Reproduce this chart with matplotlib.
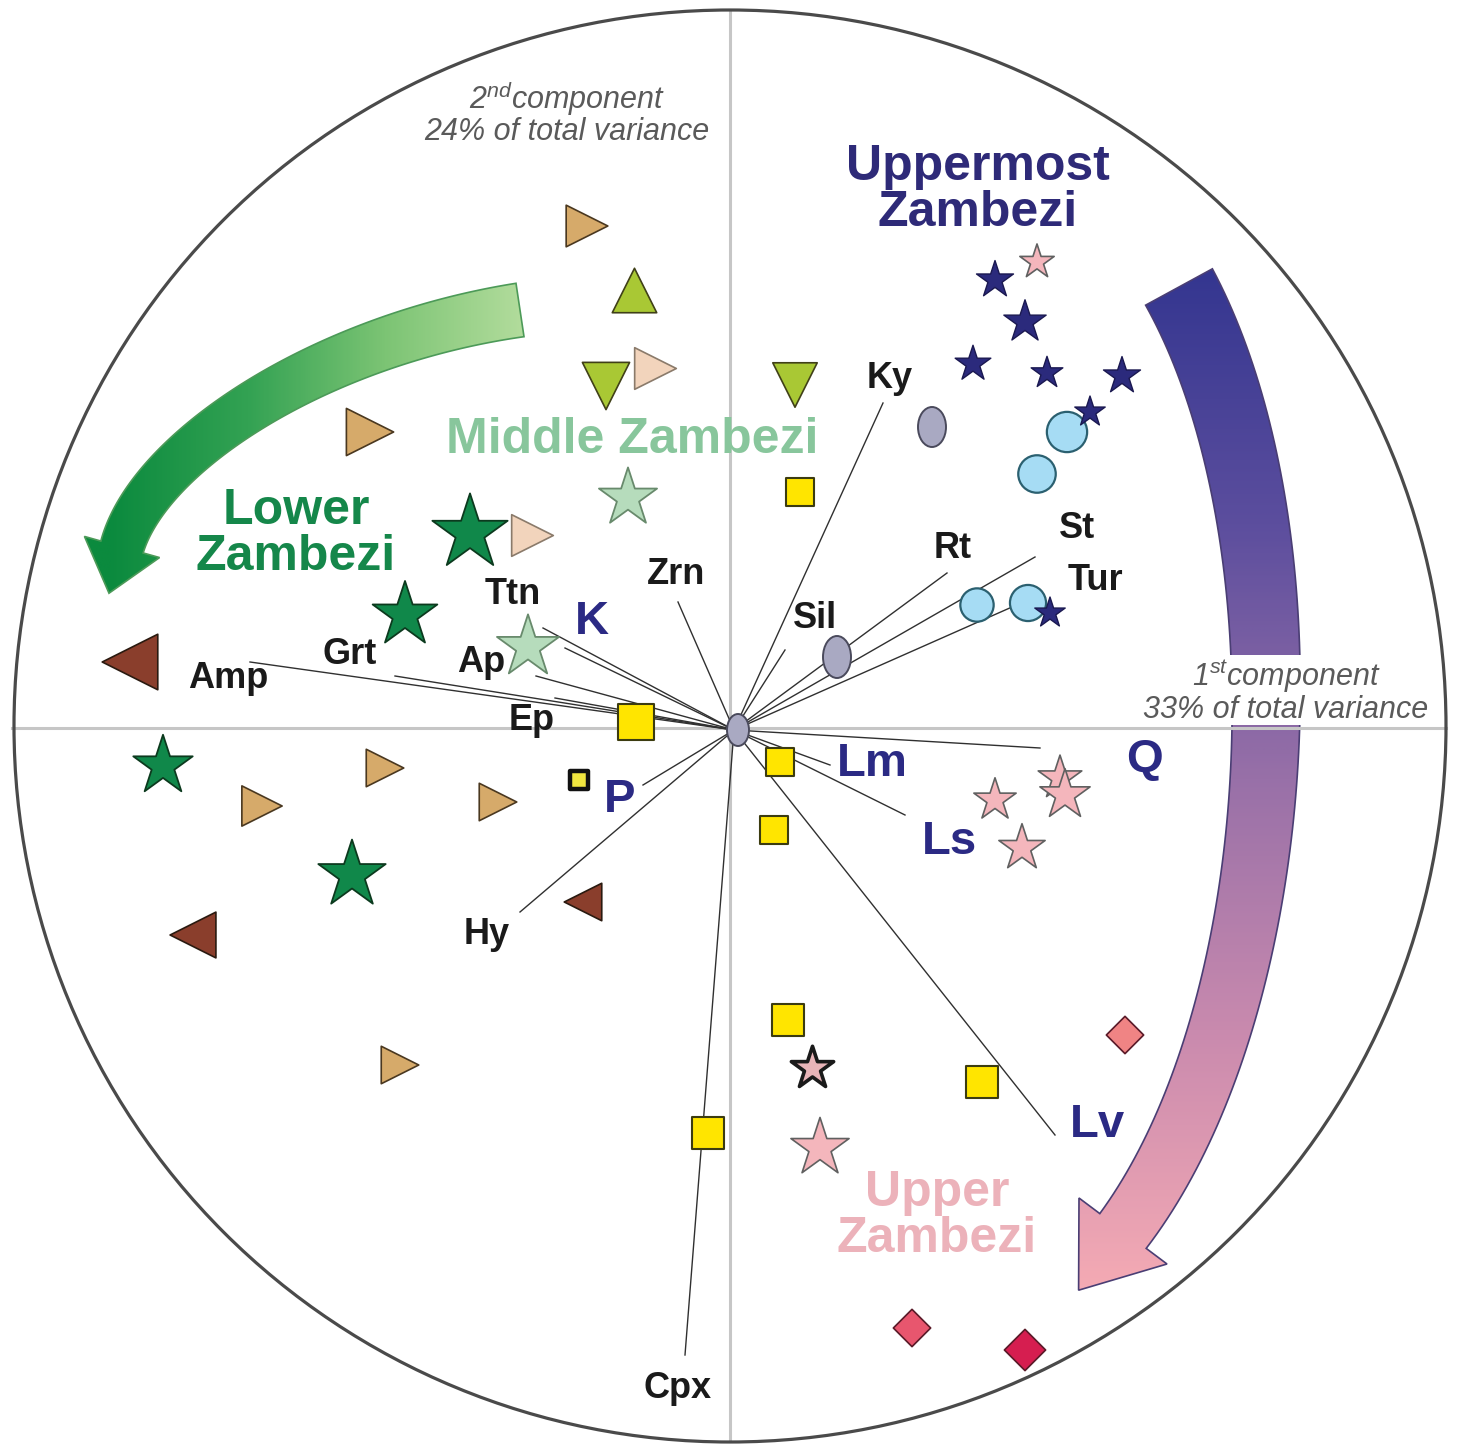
import numpy as np
import matplotlib
matplotlib.use("Agg")
import matplotlib.pyplot as plt
from matplotlib.patches import Circle, Ellipse, Polygon
from matplotlib.colors import LinearSegmentedColormap

plt.rcParams['font.family'] = ['Liberation Sans', 'DejaVu Sans']
plt.rcParams['mathtext.fontset'] = 'custom'
plt.rcParams['mathtext.rm'] = 'Liberation Sans'
plt.rcParams['mathtext.it'] = 'Liberation Sans:italic'

# ---- PCA scores (plot units, unit circle radius = 716) ----
# Uppermost Zambezi (navy stars)
navy_x = [265, 295, 243, 317, 392, 360, 320]
navy_y = [448, 406, 364, 355, 352, 316, 115]
# Upper Zambezi (pink stars)
pink_x = [307, 265, 330, 335, 292, 90]
pink_y = [466, -72, -50, -67, -120, -420]
pinkdark_x = [82]
pinkdark_y = [-340]
# light blue circles
blue_x = [337, 307, 247, 298]
blue_y = [296, 254, 123, 125]
# grey ellipses
grey_x = [202, 107, 8]
grey_y = [301, 71, -2]
# yellow squares
yellow_x = [70, -94, 50, 44, 58, 252, -22]
yellow_y = [236, 6, -34, -102, -292, -354, -405]
yellow_small_x = [-151]
yellow_small_y = [-52]
# red diamonds
diamond_x = [395, 182, 295]
diamond_y = [-307, -600, -622]
# Lower Zambezi (dark green stars)
green_x = [-260, -325, -567, -378]
green_y = [195, 113, -38, -147]
# Middle Zambezi (light green stars)
lgreen_x = [-102, -202]
lgreen_y = [230, 81]
# olive triangles
olive_up_x = [-96]
olive_up_y = [438]
olive_dn_x = [-124, 65]
olive_dn_y = [342, 343]
# tan / beige right triangles
tan_x = [-143, -360, -345, -468, -232, -330]
tan_y = [502, 296, -40, -78, -74, -337]
beige_x = [-75, -198]
beige_y = [360, 193]
# brown left triangles
brown_x = [-600, -537, -147]
brown_y = [66, -207, -174]

# ---- loadings (vector end points) ----
minerals = ['Amp', 'Grt', 'Ap', 'Ep', 'Ttn', 'Zrn', 'Hy', 'Cpx',
            'Sil', 'Ky', 'Rt', 'St', 'Tur']
mineral_x = [-480, -335, -194, -175, -187, -52, -210, -45, 55, 153, 217, 305, 282]
mineral_y = [66, 52, 52, 30, 100, 126, -184, -627, 78, 325, 155, 171, 121]
petro = ['K', 'P', 'Lm', 'Ls', 'Q', 'Lv']
petro_x = [-165, -87, 100, 175, 310, 325]
petro_y = [80, -57, -37, -87, -20, -407]

# label placement for each loading
label_pos = {
    'Amp': (-502, 49), 'Grt': (-380, 74), 'Ap': (-249, 66), 'Ep': (-198, 8),
    'Ttn': (-217, 134), 'Zrn': (-54, 153), 'Hy': (-243, -207), 'Cpx': (-52, -660),
    'Sil': (85, 110), 'Ky': (160, 350), 'Rt': (223, 180), 'St': (347, 200),
    'Tur': (365, 148), 'K': (-138, 106), 'P': (-110, -72), 'Lm': (142, -36),
    'Ls': (220, -114), 'Q': (415, -32), 'Lv': (367, -397),
}

R = 716
fig = plt.figure(figsize=(14.57, 14.46), dpi=100)
ax = fig.add_axes([0, 0, 1, 1])
ax.set_axis_off()

# outer correlation circle and the two component axes
ax.add_patch(Circle((0, 2), R, fill=False, ec='#4a4a4a', lw=2.3, zorder=3))
ax.plot([0, 0], [-R + 4, R], color='#c6c6c6', lw=2.2, zorder=2.6)
ax.plot([-R - 2, R], [0, 0], color='#c6c6c6', lw=2.2, zorder=2.6)


def curved_arrow(p0, p1, p2, p3, w0, w1, head_w, head_len, n=100):
    t = np.linspace(0, 1, n)[:, None]
    P = [np.array(p, dtype=float) for p in (p0, p1, p2, p3)]
    pts = ((1 - t) ** 3 * P[0] + 3 * (1 - t) ** 2 * t * P[1]
           + 3 * (1 - t) * t ** 2 * P[2] + t ** 3 * P[3])
    der = (3 * (1 - t) ** 2 * (P[1] - P[0]) + 6 * (1 - t) * t * (P[2] - P[1])
           + 3 * t ** 2 * (P[3] - P[2]))
    u = der / np.linalg.norm(der, axis=1, keepdims=True)
    nrm = np.column_stack([-u[:, 1], u[:, 0]])
    w = np.linspace(w0, w1, n)[:, None] / 2
    left = pts + nrm * w
    right = pts - nrm * w
    tip = P[3] + u[-1] * head_len
    hl = P[3] + nrm[-1] * head_w / 2
    hr = P[3] - nrm[-1] * head_w / 2
    return np.vstack([left, hl, tip, hr, right[::-1]])


def gradient_arrow(poly, colors, along, lo, hi, edge, z):
    patch = Polygon(poly, closed=True, fc='none', ec=edge, lw=1.2, zorder=z + 0.1)
    ax.add_patch(patch)
    xmin, ymin = poly.min(axis=0)
    xmax, ymax = poly.max(axis=0)
    xs = np.linspace(xmin, xmax, 300)
    ys = np.linspace(ymin, ymax, 300)
    XX, YY = np.meshgrid(xs, ys)
    coord = XX if along == 'x' else YY
    val = np.clip((coord - lo) / (hi - lo), 0, 1)
    cmap = LinearSegmentedColormap.from_list('arrow', colors)
    img = ax.imshow(val, cmap=cmap, extent=[xmin, xmax, ymin, ymax], origin='lower',
                    aspect='auto', interpolation='bilinear', zorder=z)
    img.set_clip_path(patch)


# Middle -> Lower Zambezi trend (green)
green_arrow = curved_arrow((-210, 418), (-410, 388), (-581, 277), (-608, 181),
                           54, 44, 78, 48)
gradient_arrow(green_arrow, ['#b2dc9c', '#7cc474', '#33a253', '#0b8a3e'],
               'x', -200, -620, '#4c9a58', 2)

# Uppermost -> Upper Zambezi trend (navy to pink)
purple_arrow = curved_arrow((449, 441), (583, 195), (561, -279), (393, -503),
                            76, 58, 110, 74)
gradient_arrow(purple_arrow, ['#343690', '#5c4e9e', '#9870a8', '#c98aae', '#f4aab4'],
               'y', 460, -560, '#4a3e74', 2)

# loading vectors
for vx, vy in zip(mineral_x + petro_x, mineral_y + petro_y):
    ax.plot([4, vx], [-2, vy], color='#303030', lw=1.0, zorder=4)

for name in minerals:
    lx, ly = label_pos[name]
    ax.text(lx, ly, name, fontsize=26, fontweight='bold', color='#1a1a1a',
            ha='center', va='center', zorder=7)
for name in petro:
    lx, ly = label_pos[name]
    ax.text(lx, ly, name, fontsize=34, fontweight='bold', color='#2b2a84',
            ha='center', va='center', zorder=7)

# sample scores
ax.scatter(tan_x, tan_y, s=[30**2, 34**2, 27**2, 29**2, 27**2, 27**2], marker='>',
           c='#d6aa6a', edgecolors='#4a3820', linewidths=1.2, zorder=5)
ax.scatter(beige_x, beige_y, s=30**2, marker='>', c='#f2d4bc',
           edgecolors='#8a7a6a', linewidths=1.2, zorder=5)
ax.scatter(brown_x, brown_y, s=[40**2, 33**2, 27**2], marker='<', c='#8a3e2c',
           edgecolors='#2a1a10', linewidths=1.2, zorder=5)
ax.scatter(olive_up_x, olive_up_y, s=32**2, marker='^', c='#a9c834',
           edgecolors='#404018', linewidths=1.2, zorder=5)
ax.scatter(olive_dn_x, olive_dn_y, s=[34**2, 32**2], marker='v', c='#a9c834',
           edgecolors='#404018', linewidths=1.2, zorder=5)
ax.scatter(green_x, green_y, s=[57**2, 49**2, 45**2, 51**2], marker='*',
           c='#10884a', edgecolors='#0c3a1e', linewidths=1.3, zorder=5)
ax.scatter(lgreen_x, lgreen_y, s=[44**2, 47**2], marker='*', c='#b6dcbc',
           edgecolors='#688a6c', linewidths=1.3, zorder=5)
ax.scatter(yellow_x, yellow_y, s=[20**2, 26**2, 20**2, 20**2, 23**2, 23**2, 23**2],
           marker='s', c='#ffe500', edgecolors='#3c3c10', linewidths=1.5, zorder=5)
ax.scatter(yellow_small_x, yellow_small_y, s=13**2, marker='s', c='#f0e640',
           edgecolors='#111111', linewidths=3.2, zorder=5)
ax.scatter(diamond_x, diamond_y, s=[19**2, 19**2, 21**2], marker='D',
           c=['#f08484', '#e8566e', '#d61e50'], edgecolors='#5a1a28',
           linewidths=1.2, zorder=5)
ax.scatter(blue_x, blue_y, s=[29**2, 27**2, 24**2, 26**2], marker='o',
           c='#a6dcf4', edgecolors='#2b6070', linewidths=1.6, zorder=5)
for gx, gy, (ew, eh) in zip(grey_x, grey_y, [(28, 40), (28, 42), (22, 32)]):
    ax.add_patch(Ellipse((gx, gy), ew, eh, fc='#a9a9c2', ec='#4a4a5c', lw=1.4, zorder=5))
ax.scatter(navy_x, navy_y, s=[28**2, 32**2, 27**2, 24**2, 28**2, 23**2, 23**2],
           marker='*', c='#2b2a7c', edgecolors='#1a1850', linewidths=1, zorder=6)
ax.scatter(pink_x, pink_y, s=[26**2, 32**2, 33**2, 38**2, 35**2, 44**2], marker='*',
           c='#f4b6bc', edgecolors='#606060', linewidths=1.2, zorder=6)
ax.scatter(pinkdark_x, pinkdark_y, s=32**2, marker='*', c='#e8b4b8',
           edgecolors='#1a1a1a', linewidths=2.6, zorder=6)

# group names
ax.text(248, 538, 'Uppermost\nZambezi', fontsize=36, fontweight='bold', color='#2e2a78',
        ha='center', va='center', linespacing=1.0, zorder=7)
ax.text(-98, 288, 'Middle Zambezi', fontsize=36, fontweight='bold', color='#88c69c',
        ha='center', va='center', zorder=7)
ax.text(-434, 194, 'Lower\nZambezi', fontsize=36, fontweight='bold', color='#15874a',
        ha='center', va='center', linespacing=1.0, zorder=7)
ax.text(207, -488, 'Upper\nZambezi', fontsize=36, fontweight='bold', color='#ecb2ba',
        ha='center', va='center', linespacing=1.0, zorder=7)

# explained variance of the components
ax.text(-163, 615, '2$^{nd}$component\n24% of total variance', fontsize=22,
        style='italic', color='#5a5a5a', ha='center', va='center',
        linespacing=1.0, zorder=8)
# white box so the purple arrow passes behind the text
ax.text(556, 37, '1$^{st}$component\n33% of total variance', fontsize=22,
        style='italic', color='#5a5a5a', ha='center', va='center',
        linespacing=1.0, zorder=2.5,
        bbox=dict(facecolor='white', edgecolor='none', pad=0.5))

ax.set_xlim(-730, 727)
ax.set_ylim(-718, 728)
fig.savefig('out.png', dpi=100, facecolor='white')
